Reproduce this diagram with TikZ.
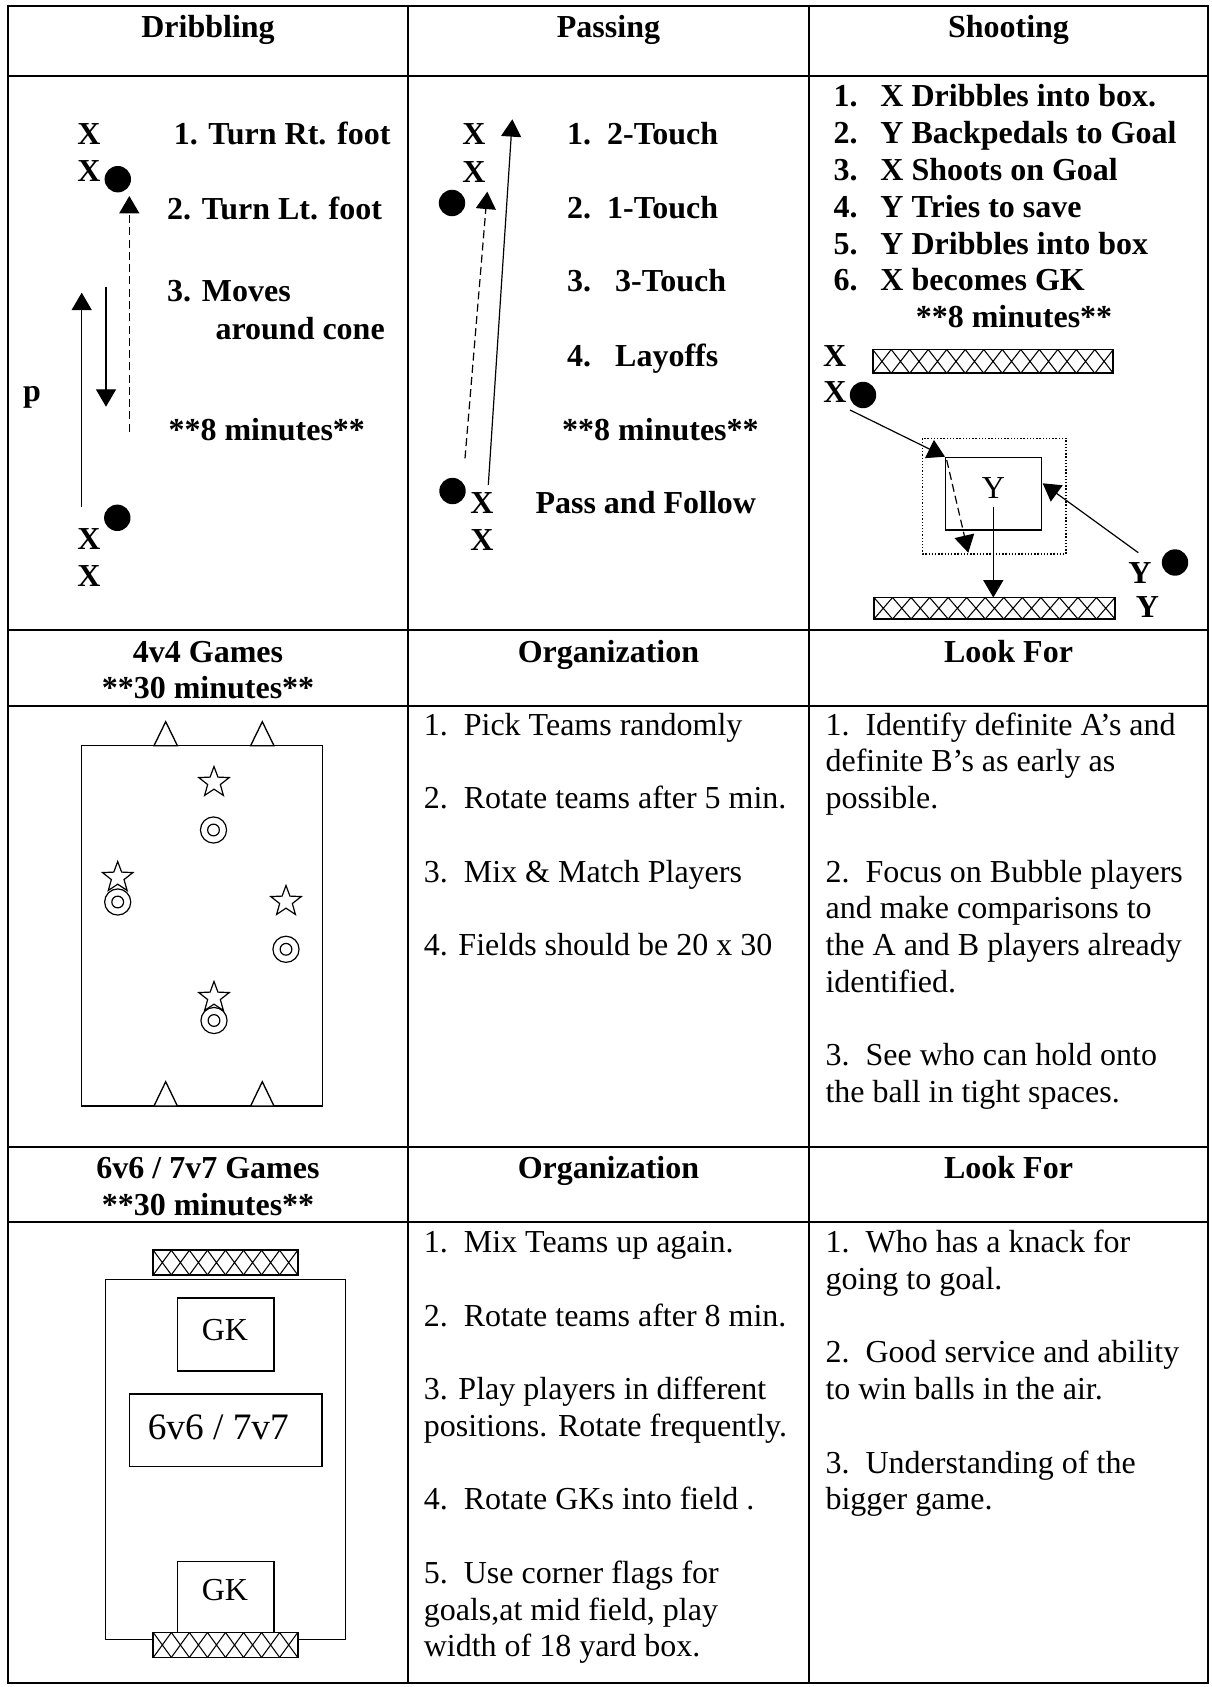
\documentclass[tikz,border=0pt]{standalone}
\usepackage{fontspec}
\setmainfont{Liberation Serif}
\usetikzlibrary{arrows.meta,shapes.geometric,positioning}

\newcommand\ptsize{\fontsize{12}{13.78}\selectfont}
% hatched goal: x1 y1 x2 y2 cells
\newcommand\goalbox[5]{%
  \fill[white] (#1,#2) rectangle (#3,#4);
  \pgfmathsetmacro\cellw{(#3-#1)/#5}
  \foreach \i in {1,...,#5}
    \draw[line width=0.4pt] ({#1+(\i-1)*\cellw},#2) -- ({#1+\i*\cellw},#4)
                            ({#1+\i*\cellw},#2) -- ({#1+(\i-1)*\cellw},#4);
  \draw[line width=0.65pt] (#1,#2) rectangle (#3,#4);
}

\tikzset{
  tbl/.style={line width=0.75pt},
  hd/.style={font=\ptsize\bfseries, inner sep=0pt, anchor=base},
  bd/.style={font=\ptsize\bfseries, inner sep=0pt, anchor=base west},
  tx/.style={font=\ptsize, inner sep=0pt, anchor=base west},
  lab/.style={font=\ptsize, inner sep=0pt, anchor=base},
  ball/.style={circle, fill=black, inner sep=0pt, minimum size=9.9pt},
  mv/.style={line width=0.45pt, -{Triangle[length=6.5pt,width=7.5pt]}},
  run/.style={mv, dash pattern=on 3pt off 1.6pt},
  field/.style={line width=0.5pt},
  cone/.style={field, fill=white},
  plyr/.style={star, star points=5, star point ratio=2.4, draw, line width=0.45pt,
    inner sep=0pt, minimum size=12pt},
  ring/.style={circle, draw, line width=0.45pt, inner sep=0pt, minimum size=9.8pt,
    path picture={\draw[line width=0.45pt] (path picture bounding box.center) circle[radius=2.2pt];}},
}

\begin{document}
\begin{tikzpicture}[x=0.375pt,y=-0.375pt]
\useasboundingbox (0,0) rectangle (1211,1687);

% table grid
\draw[tbl] (7.5,6) rectangle (1208,1683);
\foreach \y in {76.5,630,706,1147,1222} \draw[tbl] (7.5,\y) -- (1208,\y);
\foreach \x in {408,809} \draw[tbl] (\x,6) -- (\x,1683);

% headers
\node[hd] (h-drib) at (208,38) {Dribbling};
\node[hd] (h-pass) at (608.5,38) {Passing};
\node[hd] (h-shoot) at (1008.5,38) {Shooting};
\node[hd] (h-4v4) at (208,662) {4v4 Games};
\node[hd] (h-4v4t) at (208,698) {**30 minutes**};
\node[hd] (h-orga) at (608.5,662) {Organization};
\node[hd] (h-looka) at (1008.5,662) {Look For};
\node[hd] (h-6v6) at (208,1178) {6v6 / 7v7 Games};
\node[hd] (h-6v6t) at (208,1215) {**30 minutes**};
\node[hd] (h-orgb) at (608.5,1178) {Organization};
\node[hd] (h-lookb) at (1008.5,1178) {Look For};

% dribbling
\node[hd] (d-x1) at (89,145) {X};
\node[hd] (d-x2) at (89,181.7) {X};
\node[ball] (d-b1) at (117.8,179.2) {};
\node[bd] (d-t1) at (173.3,145) {1. Turn Rt. foot};
\node[bd] (d-t2) at (166.7,220) {2. Turn Lt. foot};
\node[bd] (d-t3) at (166.7,302) {3. Moves};
\node[bd] (d-t3b) at (215,339) {around cone};
\node[bd] (d-t4) at (168,440) {**8 minutes**};
\node[bd] (d-p) at (22.7,401.7) {p};
\node[ball] (d-b2) at (117.3,517.8) {};
\node[hd] (d-x3) at (89,549.3) {X};
\node[hd] (d-x4) at (89,586.7) {X};
\coordinate (d-up-a) at (81.7,506.7);
\coordinate (d-up-b) at (81.7,292.7);
\coordinate (d-dn-a) at (106,286.7);
\coordinate (d-dn-b) at (106,406.7);
\coordinate (d-rn-a) at (129.3,431.7);
\coordinate (d-rn-b) at (129.3,196);
\draw[mv] (d-up-a) -- (d-up-b);
\draw[mv] (d-dn-a) -- (d-dn-b);
\draw[run] (d-rn-a) -- (d-rn-b);

% passing
\node[hd] (p-x1) at (474,145) {X};
\node[hd] (p-x2) at (474,182.7) {X};
\node[ball] (p-b1) at (452,203) {};
\node[bd] (p-t1) at (566.7,145) {1.~~2-Touch};
\node[bd] (p-t2) at (566.7,219) {2.~~1-Touch};
\node[bd] (p-t3) at (566.7,291.7) {3.~~~3-Touch};
\node[bd] (p-t4) at (566.7,366) {4.~~~Layoffs};
\node[bd] (p-t5) at (561.7,440) {**8 minutes**};
\node[bd] (p-t6) at (535,513.3) {Pass and Follow};
\node[ball] (p-b2) at (452.5,491) {};
\node[hd] (p-x3) at (482,513.3) {X};
\node[hd] (p-x4) at (482,550) {X};
\coordinate (p-rn-a) at (465,458.3);
\coordinate (p-rn-b) at (487.3,191.7);
\coordinate (p-ps-a) at (488.3,485);
\coordinate (p-ps-b) at (512.3,119.3);
\draw[run] (p-rn-a) -- (p-rn-b);
\draw[mv] (p-ps-a) -- (p-ps-b);

% shooting
\foreach \n/\t in {1/X Dribbles into box., 2/Y Backpedals to Goal, 3/X Shoots on Goal,
  4/Y Tries to save, 5/Y Dribbles into box, 6/X becomes GK}
  \node[bd] (s-t\n) at (833,{70.2+36.8*\n}) {\makebox[17.6pt][l]{\n.}\t};
\node[hd] (s-t7) at (1014,328) {**8 minutes**};
\goalbox{872.7}{349.5}{1113.3}{373.3}{13}
\goalbox{874}{597.5}{1115}{619}{13}
\draw[field, dash pattern=on 0.5pt off 0.7pt] (922.7,438.3) rectangle (1066,554);
\draw[field] (945.7,457.7) rectangle (1041.7,530);
\node[lab] (s-y) at (993.3,498.3) {Y};
\node[hd] (s-x1) at (834.7,366) {X};
\node[hd] (s-x2) at (835,402) {X};
\node[ball] (s-b1) at (863,395) {};
\node[ball] (s-b2) at (1175,562.5) {};
\node[hd] (s-y1) at (1140,583.3) {Y};
\node[hd] (s-y2) at (1147.5,617.3) {Y};
\coordinate (s-dr-a) at (850,410);
\coordinate (s-dr-b) at (945,456.7);
\coordinate (s-sh-a) at (946.7,460);
\coordinate (s-sh-b) at (968.3,552.7);
\coordinate (s-bk-a) at (993.3,506.7);
\coordinate (s-bk-b) at (993.3,597.5);
\coordinate (s-in-a) at (1138.3,552.7);
\coordinate (s-in-b) at (1042.7,483.3);
\draw[mv] (s-dr-a) -- (s-dr-b);
\draw[run] (s-sh-a) -- (s-sh-b);
\draw[mv] (s-bk-a) -- (s-bk-b);
\draw[mv] (s-in-a) -- (s-in-b);

% 4v4 field
\draw[field] (81.7,745.7) rectangle (322.7,1106);
\foreach \x in {165.7,262.3} {
  \draw[cone] (\x-11.7,745.7) -- (\x,721.7) -- (\x+11.7,745.7) -- cycle;
  \draw[cone] (\x-11.7,1106) -- (\x,1081.7) -- (\x+11.7,1106) -- cycle;
}
\node[ring] (r1) at (213.5,830) {};
\node[ring] (r2) at (117.7,902) {};
\node[ring] (r3) at (286,949.3) {};
\node[ring] (r4) at (214,1020.5) {};
\node[plyr] (st1) at (214,782.5) {};
\node[plyr] (st2) at (117.7,877.5) {};
\node[plyr] (st3) at (286,901.5) {};
\node[plyr] (st4) at (214,997.5) {};

% 4v4 text
\foreach \k/\t in {0/{1.~~Pick Teams randomly}, 2/{2.~~Rotate teams after 5 min.},
  4/{3.~~Mix \& Match Players}, 6/{4. Fields should be 20 x 30}}
  \node[tx] (oa-\k) at (423.3,{735+36.75*\k}) {\t};
\foreach \k/\t in {0/{1.~~Identify definite A’s and}, 1/{definite B’s as early as},
  2/{possible.}, 4/{2.~~Focus on Bubble players}, 5/{and make comparisons to},
  6/{the A and B players already}, 7/{identified.}, 9/{3.~~See who can hold onto},
  10/{the ball in tight spaces.}}
  \node[tx] (la-\k) at (825,{735+36.75*\k}) {\t};

% 6v6 field
\draw[field] (105.3,1279.5) rectangle (345.3,1639.6);
\draw[field] (177.7,1298) rectangle (274,1371);
\node[lab] (gk-a) at (225,1340) {GK};
\draw[field] (129.3,1394) rectangle (322,1466.6);
\node[lab, font=\fontsize{14}{16}\selectfont] (mid) at (218.3,1439.6) {6v6 / 7v7};
\draw[field] (177.7,1561.3) rectangle (274,1632.5);
\node[lab] (gk-b) at (225,1600.4) {GK};
\goalbox{153.3}{1250.3}{297.7}{1274.8}{8}
\goalbox{153.3}{1632.5}{297.7}{1657.4}{8}

% 6v6 text
\foreach \k/\t in {0/{1.~~Mix Teams up again.}, 2/{2.~~Rotate teams after 8 min.},
  4/{3. Play players in different}, 5/{positions. Rotate frequently.},
  7/{4.~~Rotate GKs into field .}, 9/{5.~~Use corner flags for},
  10/{goals,at mid field, play}, 11/{width of 18 yard box.}}
  \node[tx] (ob-\k) at (423.3,{1252.6+36.75*\k}) {\t};
\foreach \k/\t in {0/{1.~~Who has a knack for}, 1/{going to goal.},
  3/{2.~~Good service and ability}, 4/{to win balls in the air.},
  6/{3.~~Understanding of the}, 7/{bigger game.}}
  \node[tx] (lb-\k) at (825,{1252.6+36.75*\k}) {\t};
\end{tikzpicture}
\end{document}
